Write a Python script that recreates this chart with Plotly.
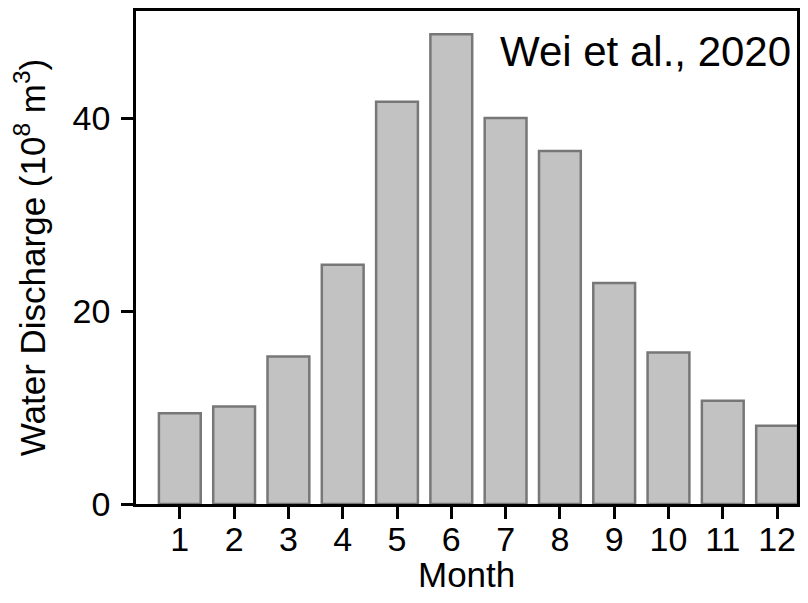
import plotly.graph_objects as go

months = list(range(1, 13))
month_labels = [str(m) for m in months]
discharge = [9.4, 10.1, 15.3, 24.8, 41.7, 48.7, 40.0, 36.6, 22.9, 15.7, 10.7, 8.1]
y_ticks = [0, 20, 40]

FONT = "Liberation Sans, Arial, Helvetica, sans-serif"
TICK = 34
TITLE = 35

fig = go.Figure()
fig.add_trace(go.Bar(
    x=months, y=discharge, width=0.77,
    marker=dict(color="#c2c2c2", line=dict(color="#777777", width=2.5)),
))

fig.update_layout(
    width=792, height=587,
    margin=dict(l=128, r=0, t=0, b=91),
    paper_bgcolor="white", plot_bgcolor="white",
    font=dict(family=FONT, size=TICK, color="black"),
    showlegend=False,
    annotations=[
        dict(
            text="Wei et al., 2020", xref="paper", yref="paper",
            x=0.994, y=0.917, xanchor="right", yanchor="middle",
            showarrow=False, font=dict(family=FONT, size=42, color="black"),
        ),
        dict(
            text="Month", xref="paper", yref="paper",
            x=0.5, y=-0.142, xanchor="center", yanchor="middle",
            showarrow=False, font=dict(family=FONT, size=TITLE, color="black"),
        ),
    ],
)
fig.update_xaxes(
    range=[0.193, 12.367], tickvals=months, ticktext=month_labels,
    showline=True, linecolor="black", linewidth=2.5, mirror=True,
    ticks="outside", ticklen=12, tickwidth=2.5, tickcolor="black",
    showgrid=False, zeroline=False, ticklabelstandoff=-9,
    tickfont=dict(size=TICK),
)
fig.update_yaxes(
    range=[0, 51.1], tickvals=y_ticks, ticktext=[str(v) for v in y_ticks],
    showline=True, linecolor="black", linewidth=2.5, mirror=True,
    ticks="outside", ticklen=12, tickwidth=2.5, tickcolor="black",
    showgrid=False, zeroline=False, ticklabelstandoff=4,
    title=dict(text="Water Discharge (10<sup>8</sup> m<sup>3</sup>)", standoff=27, font=dict(size=TITLE)),
    tickfont=dict(size=TICK),
)

fig.write_html("out.html")
